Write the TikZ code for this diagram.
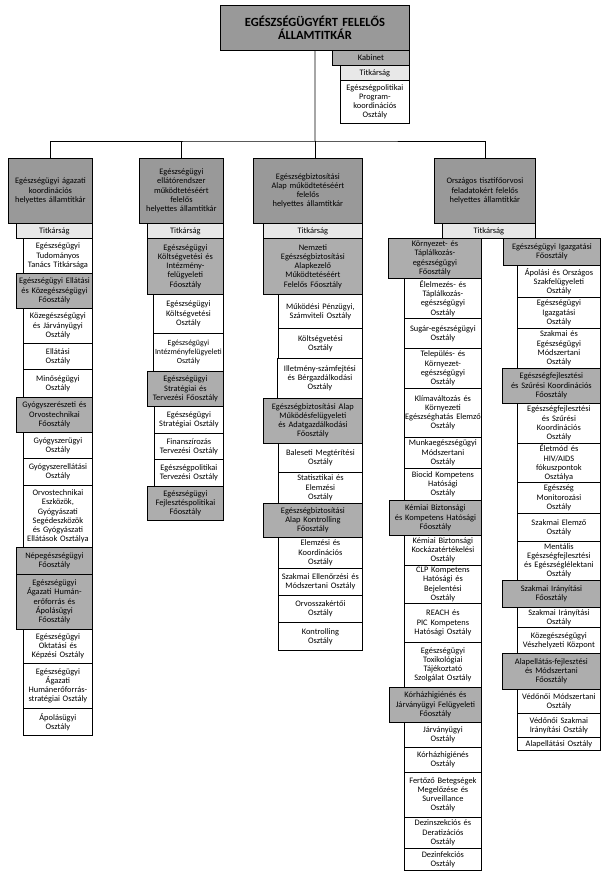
\documentclass[tikz,border=0pt]{standalone}
\usepackage{fontspec}
\setmainfont{Carlito}
\usepackage{xcolor}
\usepackage{tikz}

\definecolor{vezgray}{gray}{0.6}
\definecolor{foogray}{gray}{0.68}
\definecolor{kabgray}{gray}{0.67}
\definecolor{titkgray}{gray}{0.91}
\hyphenpenalty=10000
\exhyphenpenalty=10000

\begin{document}
\begin{tikzpicture}[x=1pt, y=-1pt,
    egyseg/.style={draw=black, line width=0.8pt, inner sep=0pt, align=center, anchor=north west, font=\fontsize{8.4}{9.2}\selectfont},
    sz/.style 2 args={text width=#1pt, minimum height=#2pt},
    vez/.style={egyseg, fill=vezgray},
    foo/.style={egyseg, fill=foogray},
    kab/.style={egyseg, fill=kabgray},
    titk/.style={egyseg, fill=titkgray},
    osztaly/.style={egyseg, fill=white},
    trunk/.style={draw=black!35, line width=2.5pt},
    vonal/.style={draw=black, line width=0.7pt}]
    \useasboundingbox (0,0) rectangle (602,880);

    % Allamtitkar es kabinet
    \node[vez, sz={189}{45}, font=\fontsize{12.5}{13.5}\selectfont\bfseries] (top) at (220,5) {EGÉSZSÉGÜGYÉRT FELELŐS\\ÁLLAMTITKÁR};
    \node[kab, sz={77}{15}] (kabinet) at (332,50) {Kabinet};
    \node[titk, sz={69}{15}] (t0) at (340,65) {Titkárság};
    \node[osztaly, sz={69}{43}] (o0) at (340,80) {Egészségpolitikai\\Program-\\koordinációs\\Osztály};

    % Egeszsegugyi agazati koordinacio
    \node[vez, sz={84}{65}] (h1) at (8,158) {Egészségügyi ágazati\\koordinációs\\helyettes államtitkár};
    \node[titk, sz={76}{15}] (t1) at (16,223) {Titkárság};
    \node[osztaly, sz={69}{35}] (o1a) at (23,238) {Egészségügyi\\Tudományos\\Tanács Titkársága};
    \node[foo, sz={76}{35}] (f1a) at (16,273) {Egészségügyi Ellátási\\és Közegészségügyi\\Főosztály};
    \node[osztaly, sz={69}{35}] (o1b) at (23,308) {Közegészségügyi\\és Járványügyi\\Osztály};
    \node[osztaly, sz={69}{26}] (o1c) at (23,343) {Ellátási\\Osztály};
    \node[osztaly, sz={69}{28}] (o1d) at (23,369) {Minőségügyi\\Osztály};
    \node[foo, sz={76}{35}] (f1b) at (16,397) {Gyógyszerészeti és\\Orvostechnikai\\Főosztály};
    \node[osztaly, sz={69}{26}] (o1e) at (23,432) {Gyógyszerügyi\\Osztály};
    \node[osztaly, sz={69}{27}] (o1f) at (23,458) {Gyógyszerellátási\\Osztály};
    \node[osztaly, sz={69}{62}] (o1g) at (23,485) {Orvostechnikai\\Eszközök,\\Gyógyászati\\Segédeszközök\\és Gyógyászati\\Ellátások Osztálya};
    \node[foo, sz={76}{27}] (f1c) at (16,547) {Népegészségügyi\\Főosztály};
    \node[foo, sz={76}{55}] (f1d) at (16,574) {Egészségügyi\\Ágazati Humán-\\erőforrás és\\Ápolásügyi\\Főosztály};
    \node[osztaly, sz={69}{34}] (o1h) at (23,629) {Egészségügyi\\Oktatási és\\Képzési Osztály};
    \node[osztaly, sz={69}{45}] (o1i) at (23,663) {Egészségügyi\\Ágazati\\Humánerőforrás-\\stratégiai Osztály};
    \node[osztaly, sz={69}{27}] (o1j) at (23,708) {Ápolásügyi\\Osztály};

    % Ellatorendszer mukodtetese
    \node[vez, sz={84}{65}] (h2) at (139,158) {Egészségügyi\\ellátórendszer\\működtetéséért\\felelős\\helyettes államtitkár};
    \node[titk, sz={76}{15}] (t2) at (147,223) {Titkárság};
    \node[foo, sz={76}{56}] (f2a) at (147,238) {Egészségügyi\\Költségvetési és\\Intézmény-\\felügyeleti\\Főosztály};
    \node[osztaly, sz={70}{39}] (o2a) at (153,294) {Egészségügyi\\Költségvetési\\Osztály};
    \node[osztaly, sz={70}{38}, font=\fontsize{7.9}{9.2}\selectfont] (o2b) at (153,333) {Egészségügyi\\Intézményfelügyeleti\\Osztály};
    \node[foo, sz={76}{35}] (f2b) at (147,371) {Egészségügyi\\Stratégiai és\\Tervezési Főosztály};
    \node[osztaly, sz={69}{27}] (o2c) at (154,406) {Egészségügyi\\Stratégiai Osztály};
    \node[osztaly, sz={69}{26}] (o2d) at (154,433) {Finanszírozás\\Tervezési Osztály};
    \node[osztaly, sz={69}{27}] (o2e) at (154,459) {Egészségpolitikai\\Tervezési Osztály};
    \node[foo, sz={76}{34}] (f2c) at (147,486) {Egészségügyi\\Fejlesztéspolitikai\\Főosztály};

    % Egeszsegbiztositasi Alap
    \node[vez, sz={109}{65}] (h3) at (253,158) {Egészségbiztosítási\\Alap működtetéséért\\felelős\\helyettes államtitkár};
    \node[titk, sz={99}{15}] (t3) at (263,223) {Titkárság};
    \node[foo, sz={99}{56}] (f3a) at (263,238) {Nemzeti\\Egészségbiztosítási\\Alapkezelő\\Működtetéséért\\Felelős Főosztály};
    \node[osztaly, sz={84}{34}] (o3a) at (278,294) {Működési Pénzügyi,\\Számviteli Osztály};
    \node[osztaly, sz={84}{30}] (o3b) at (278,328) {Költségvetési\\Osztály};
    \node[osztaly, sz={85}{40}] (o3c) at (277,358) {Illetmény-számfejtési\\és Bérgazdálkodási\\Osztály};
    \node[foo, sz={99}{45}] (f3b) at (263,398) {Egészségbiztosítási Alap\\Működésfelügyeleti\\és Adatgazdálkodási\\Főosztály};
    \node[osztaly, sz={84}{29}] (o3d) at (278,443) {Baleseti Megtérítési\\Osztály};
    \node[osztaly, sz={84}{31}] (o3e) at (278,472) {Statisztikai és\\Elemzési\\Osztály};
    \node[foo, sz={99}{34}] (f3c) at (263,503) {Egészségbiztosítási\\Alap Kontrolling\\Főosztály};
    \node[osztaly, sz={84}{31}] (o3f) at (278,537) {Elemzési és\\Koordinációs\\Osztály};
    \node[osztaly, sz={84}{27}] (o3g) at (278,568) {Szakmai Ellenőrzési és\\Módszertani Osztály};
    \node[osztaly, sz={84}{27}] (o3h) at (278,595) {Orvosszakértői\\Osztály};
    \node[osztaly, sz={84}{28}] (o3i) at (278,622) {Kontrolling\\Osztály};

    % Orszagos tisztifoorvos
    \node[vez, sz={101}{65}] (h4) at (434,158) {Országos tisztifőorvosi\\feladatokért felelős\\helyettes államtitkár};
    \node[titk, sz={93}{15}] (t4) at (442,223) {Titkárság};
    \node[foo, sz={93}{40}] (f4a) at (388,238) {Környezet- és\\Táplálkozás-\\egészségügyi\\Főosztály};
    \node[osztaly, sz={77}{40}] (o4a) at (404,278) {Élelmezés- és\\Táplálkozás-\\egészségügyi\\Osztály};
    \node[osztaly, sz={77}{30}] (o4b) at (404,318) {Sugár-egészségügyi\\Osztály};
    \node[osztaly, sz={77}{40}] (o4c) at (404,348) {Település- és\\Környezet-\\egészségügyi\\Osztály};
    \node[osztaly, sz={77}{49}] (o4d) at (404,388) {Klímaváltozás és\\Környezeti\\Egészséghatás Elemző\\Osztály};
    \node[osztaly, sz={77}{31}] (o4e) at (404,437) {Munkaegészségügyi\\Módszertani\\Osztály};
    \node[osztaly, sz={77}{32}] (o4f) at (404,468) {Biocid Kompetens\\Hatósági\\Osztály};
    \node[foo, sz={92}{35}] (f4b) at (389,500) {Kémiai Biztonsági\\és Kompetens Hatósági\\Főosztály};
    \node[osztaly, sz={77}{30}] (o4g) at (404,535) {Kémiai Biztonsági\\Kockázatértékelési\\Osztály};
    \node[osztaly, sz={77}{38}] (o4h) at (404,565) {CLP Kompetens\\Hatósági és\\Bejelentési\\Osztály};
    \node[osztaly, sz={77}{39}] (o4i) at (404,603) {REACH és\\PIC Kompetens\\Hatósági Osztály};
    \node[osztaly, sz={77}{45}] (o4j) at (404,642) {Egészségügyi\\Toxikológiai\\Tájékoztató\\Szolgálat Osztály};
    \node[foo, sz={92}{35}] (f4c) at (389,687) {Kórházhigiénés és\\Járványügyi Felügyeleti\\Főosztály};
    \node[osztaly, sz={77}{25}] (o4k) at (404,722) {Járványügyi\\Osztály};
    \node[osztaly, sz={77}{25}] (o4l) at (404,747) {Kórházhigiénés\\Osztály};
    \node[osztaly, sz={77}{45}] (o4m) at (404,772) {Fertőző Betegségek\\Megelőzése és\\Surveillance\\Osztály};
    \node[osztaly, sz={77}{31}] (o4n) at (404,817) {Dezinszekciós és\\Deratizációs\\Osztály};
    \node[osztaly, sz={77}{22}] (o4o) at (404,848) {Dezinfekciós\\Osztály};

    \node[foo, sz={97}{27}] (f5a) at (503,238) {Egészségügyi Igazgatási\\Főosztály};
    \node[osztaly, sz={83}{32}] (o5a) at (517,265) {Ápolási és Országos\\Szakfelügyeleti\\Osztály};
    \node[osztaly, sz={83}{31}] (o5b) at (517,297) {Egészségügyi\\Igazgatási\\Osztály};
    \node[osztaly, sz={83}{40}] (o5c) at (517,328) {Szakmai és\\Egészségügyi\\Módszertani\\Osztály};
    \node[foo, sz={98}{35}] (f5b) at (502,368) {Egészségfejlesztési\\és Szűrési Koordinációs\\Főosztály};
    \node[osztaly, sz={83}{40}] (o5d) at (517,403) {Egészségfejlesztési\\és Szűrési\\Koordinációs\\Osztály};
    \node[osztaly, sz={83}{39}] (o5e) at (517,443) {Életmód és\\HIV/AIDS\\fókuszpontok\\Osztálya};
    \node[osztaly, sz={83}{31}] (o5f) at (517,482) {Egészség\\Monitorozási\\Osztály};
    \node[osztaly, sz={83}{28}] (o5g) at (517,513) {Szakmai Elemző\\Osztály};
    \node[osztaly, sz={83}{39}] (o5h) at (517,541) {Mentális\\Egészségfejlesztési\\és Egészséglélektani\\Osztály};
    \node[foo, sz={98}{27}] (f5c) at (502,580) {Szakmai Irányítási\\Főosztály};
    \node[osztaly, sz={83}{20}] (o5i) at (517,607) {Szakmai Irányítási\\Osztály};
    \node[osztaly, sz={83}{26}] (o5j) at (517,627) {Közegészségügyi\\Vészhelyzeti Központ};
    \node[foo, sz={98}{36}] (f5d) at (502,653) {Alapellátás-fejlesztési\\és Módszertani\\Főosztály};
    \node[osztaly, sz={83}{24}] (o5k) at (517,689) {Védőnői Módszertani\\Osztály};
    \node[osztaly, sz={83}{24}] (o5l) at (517,713) {Védőnői Szakmai\\Irányítási Osztály};
    \node[osztaly, sz={83}{13}] (o5m) at (517,737) {Alapellátási Osztály};

    % Kapcsolatok
    \coordinate (bus) at (312,141);
    \draw[trunk] (top.south) -- (top.south |- bus);
    \draw[vonal] (h1.north) |- (bus) -| (h4.north);
    \draw[vonal] (h2.north) -- (h2.north |- bus);
    \draw[vonal] (top.south |- bus) -- (top.south |- h3.north);
\end{tikzpicture}
\end{document}
